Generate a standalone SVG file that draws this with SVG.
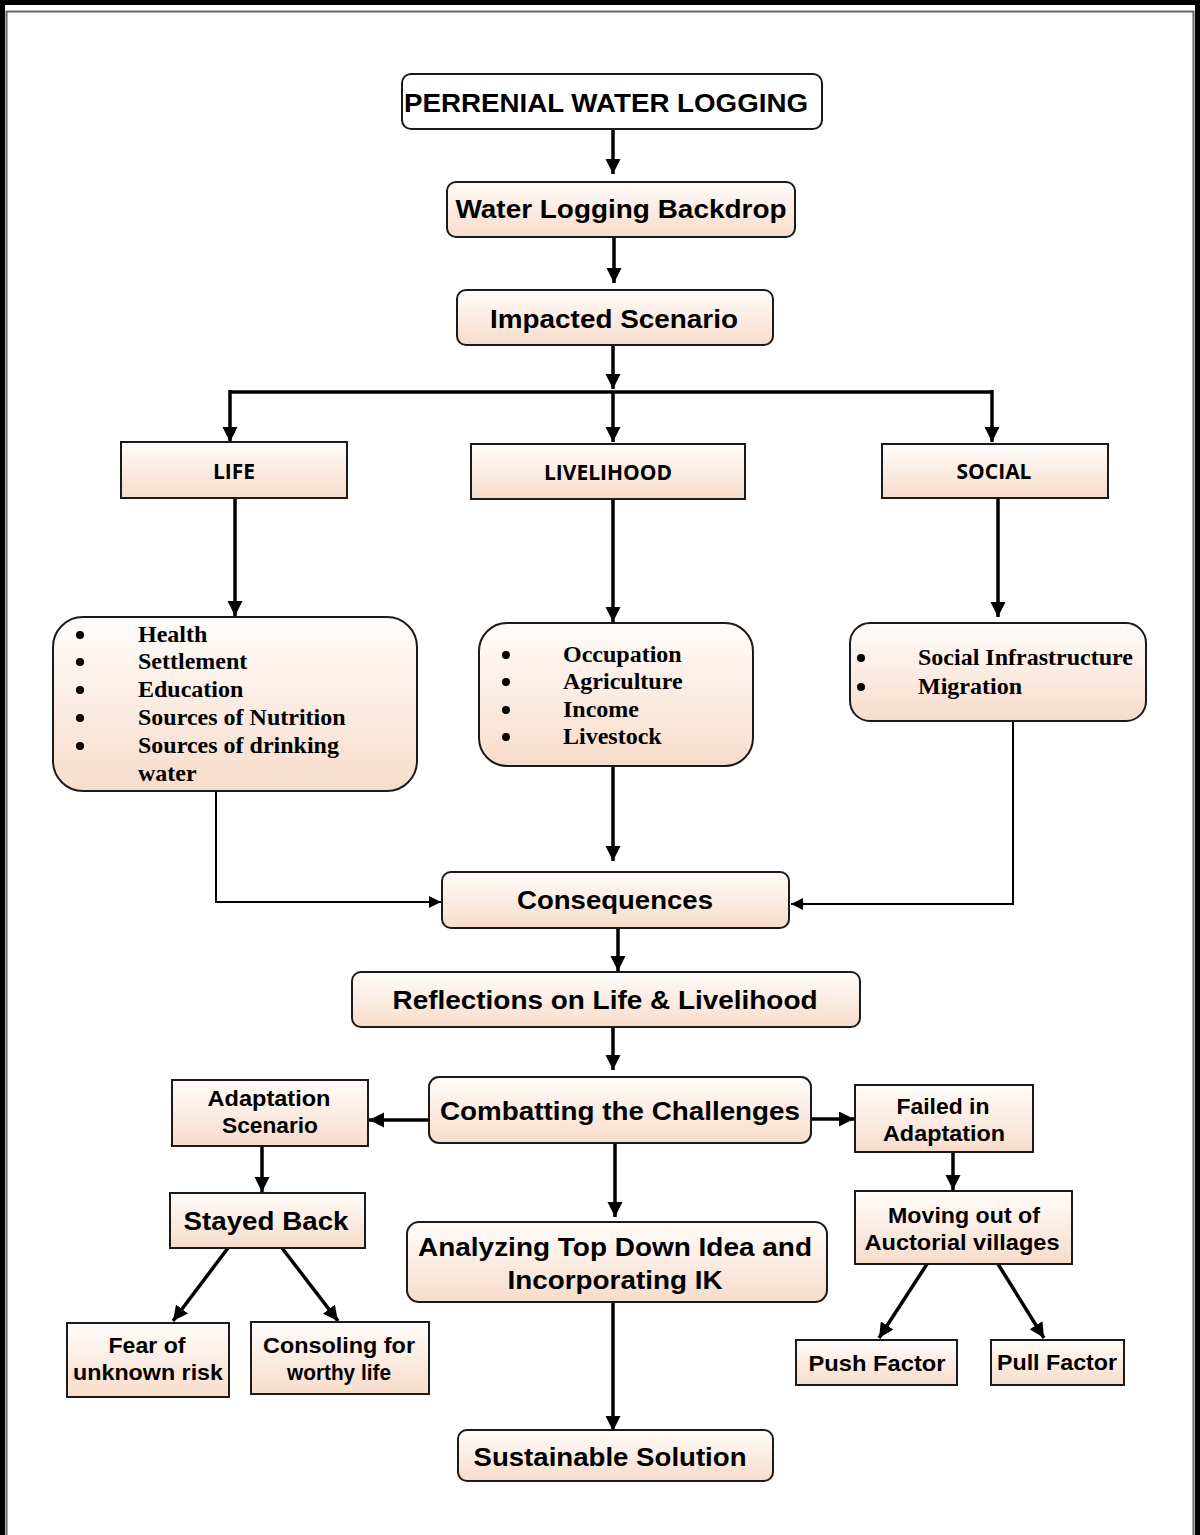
<svg xmlns="http://www.w3.org/2000/svg" width="1200" height="1535" viewBox="0 0 1200 1535">
<defs>
<linearGradient id="peach" x1="0" y1="0" x2="0" y2="1">
<stop offset="0" stop-color="#fffcfa"/>
<stop offset="1" stop-color="#f7dccb"/>
</linearGradient>
<marker id="ah" markerUnits="userSpaceOnUse" markerWidth="17" markerHeight="17" refX="15" refY="7.5" orient="auto">
<path d="M0,0 L15,7.5 L0,15 z" fill="#000"/>
</marker>
<marker id="ahs" markerUnits="userSpaceOnUse" markerWidth="14" markerHeight="14" refX="12" refY="6" orient="auto">
<path d="M0,0 L12,6 L0,12 z" fill="#000"/>
</marker>
</defs>
<style>
.box{fill:url(#peach);stroke:#1a1a1a;stroke-width:2}
.wbox{fill:#fff;stroke:#1a1a1a;stroke-width:2}
.t{font-family:"Liberation Sans",Arial,sans-serif;font-weight:bold;fill:#000;text-anchor:middle}
.big{font-size:26px}
.sm{font-size:22px}
.cap{font-family:"Open Sans","Liberation Sans",sans-serif;font-weight:bold;font-size:21px;fill:#000;text-anchor:middle}
.li{font-family:"Liberation Serif","Times New Roman",serif;font-weight:bold;font-size:24px;fill:#000}
.c{fill:none;stroke:#000;stroke-width:3.5;marker-end:url(#ah)}
.ct{fill:none;stroke:#000;stroke-width:2;marker-end:url(#ahs)}
.ln{fill:none;stroke:#000;stroke-width:3.5}
</style>
<rect x="0" y="0" width="1200" height="1535" fill="#fff"/>
<g id="frame">
<path d="M2.5,1540 V2.5 H1197.5 V1540" fill="none" stroke="#000" stroke-width="5"/>
<path d="M6.5,1540 V11.5 H1193.5 V1540" fill="none" stroke="#666" stroke-width="2"/>
</g>

<g id="connectors">
<path class="c" d="M613,129 V174"/>
<path class="c" d="M614,237 V283"/>
<path class="c" d="M613,345 V389"/>
<path class="ln" d="M230,392 H992"/>
<path class="c" d="M230,390 V442"/>
<path class="c" d="M613,392 V442"/>
<path class="c" d="M992,390 V442"/>
<path class="c" d="M235,498 V616"/>
<path class="c" d="M613,499 V622"/>
<path class="c" d="M998,498 V617"/>
<path class="ct" d="M216,791 V902 H441"/>
<path class="c" d="M613,766 V861"/>
<path class="ct" d="M1013,721 V904 H791"/>
<path class="c" d="M618,928 V971"/>
<path class="c" d="M613,1027 V1070"/>
<path class="c" d="M429,1120 H369"/>
<path class="c" d="M811,1119 H854"/>
<path class="c" d="M615,1143 V1217"/>
<path class="c" d="M262,1146 V1192"/>
<path class="c" d="M228,1248 L173,1321"/>
<path class="c" d="M282,1248 L338,1321"/>
<path class="c" d="M953,1152 V1190"/>
<path class="c" d="M927,1264 L879,1338"/>
<path class="c" d="M998,1264 L1044,1338"/>
<path class="c" d="M613,1302 V1431"/>
</g>

<g id="n-perrenial">
<rect class="wbox" x="402" y="74" width="420" height="55" rx="9"/>
<text class="t big" x="606" y="112" textLength="404" lengthAdjust="spacingAndGlyphs">PERRENIAL WATER LOGGING</text>
</g>
<g id="n-backdrop">
<rect class="box" x="447" y="182" width="348" height="55" rx="9"/>
<text class="t big" x="621" y="218" textLength="331" lengthAdjust="spacingAndGlyphs">Water Logging  Backdrop</text>
</g>
<g id="n-impacted">
<rect class="box" x="457" y="290" width="316" height="55" rx="9"/>
<text class="t big" x="614" y="328" textLength="248" lengthAdjust="spacingAndGlyphs">Impacted Scenario</text>
</g>

<g id="n-life">
<rect class="box" x="121" y="442" width="226" height="56"/>
<text class="cap" x="234" y="479">LIFE</text>
</g>
<g id="n-livelihood">
<rect class="box" x="471" y="444" width="274" height="55"/>
<text class="cap" x="608" y="480">LIVELIHOOD</text>
</g>
<g id="n-social">
<rect class="box" x="882" y="444" width="226" height="54"/>
<text class="cap" x="994" y="479">SOCIAL</text>
</g>

<g id="n-life-list">
<rect class="box" x="53" y="617" width="364" height="174" rx="30"/>
<circle cx="80" cy="635" r="4"/>
<circle cx="80" cy="662" r="4"/>
<circle cx="80" cy="690" r="4"/>
<circle cx="80" cy="718" r="4"/>
<circle cx="80" cy="746" r="4"/>
<text class="li" x="138" y="642">Health</text>
<text class="li" x="138" y="669">Settlement</text>
<text class="li" x="138" y="697">Education</text>
<text class="li" x="138" y="725">Sources of Nutrition</text>
<text class="li" x="138" y="753">Sources of drinking</text>
<text class="li" x="138" y="781">water</text>
</g>
<g id="n-livelihood-list">
<rect class="box" x="479" y="623" width="274" height="143" rx="28"/>
<circle cx="506" cy="655" r="4"/>
<circle cx="506" cy="682" r="4"/>
<circle cx="506" cy="710" r="4"/>
<circle cx="506" cy="737" r="4"/>
<text class="li" x="563" y="662">Occupation</text>
<text class="li" x="563" y="689">Agriculture</text>
<text class="li" x="563" y="717">Income</text>
<text class="li" x="563" y="744">Livestock</text>
</g>
<g id="n-social-list">
<rect class="box" x="850" y="623" width="296" height="98" rx="20"/>
<circle cx="861" cy="658" r="4"/>
<circle cx="861" cy="687" r="4"/>
<text class="li" x="918" y="665">Social Infrastructure</text>
<text class="li" x="918" y="694">Migration</text>
</g>

<g id="n-consequences">
<rect class="box" x="442" y="872" width="347" height="56" rx="9"/>
<text class="t big" x="615" y="909" textLength="196" lengthAdjust="spacingAndGlyphs">Consequences</text>
</g>
<g id="n-reflections">
<rect class="box" x="352" y="972" width="508" height="55" rx="9"/>
<text class="t big" x="605" y="1009" textLength="425" lengthAdjust="spacingAndGlyphs">Reflections on Life &amp; Livelihood</text>
</g>
<g id="n-combatting">
<rect class="box" x="429" y="1077" width="382" height="66" rx="10"/>
<text class="t big" x="620" y="1120" textLength="360" lengthAdjust="spacingAndGlyphs">Combatting the Challenges</text>
</g>

<g id="n-adaptation">
<rect class="box" x="172" y="1080" width="196" height="66"/>
<text class="t sm" x="269" y="1106" textLength="123" lengthAdjust="spacingAndGlyphs">Adaptation</text>
<text class="t sm" x="270" y="1133" textLength="96" lengthAdjust="spacingAndGlyphs">Scenario</text>
</g>
<g id="n-stayed">
<rect class="box" x="170" y="1193" width="195" height="55"/>
<text class="t big" x="266" y="1230" textLength="165" lengthAdjust="spacingAndGlyphs">Stayed Back</text>
</g>
<g id="n-fear">
<rect class="box" x="67" y="1323" width="162" height="74"/>
<text class="t sm" x="147" y="1353" textLength="77" lengthAdjust="spacingAndGlyphs">Fear of</text>
<text class="t sm" x="148" y="1380" textLength="150" lengthAdjust="spacingAndGlyphs">unknown risk</text>
</g>
<g id="n-consoling">
<rect class="box" x="251" y="1322" width="178" height="72"/>
<text class="t sm" x="339" y="1353" textLength="152" lengthAdjust="spacingAndGlyphs">Consoling for</text>
<text class="t sm" x="339" y="1380" textLength="104" lengthAdjust="spacingAndGlyphs">worthy life</text>
</g>

<g id="n-failed">
<rect class="box" x="855" y="1085" width="178" height="67"/>
<text class="t sm" x="943" y="1114" textLength="93" lengthAdjust="spacingAndGlyphs">Failed in</text>
<text class="t sm" x="944" y="1141" textLength="122" lengthAdjust="spacingAndGlyphs">Adaptation</text>
</g>
<g id="n-moving">
<rect class="box" x="855" y="1191" width="217" height="73"/>
<text class="t sm" x="964" y="1223" textLength="152" lengthAdjust="spacingAndGlyphs">Moving out of</text>
<text class="t sm" x="962" y="1250" textLength="195" lengthAdjust="spacingAndGlyphs">Auctorial villages</text>
</g>
<g id="n-push">
<rect class="box" x="796" y="1340" width="161" height="45"/>
<text class="t sm" x="877" y="1371" textLength="137" lengthAdjust="spacingAndGlyphs">Push Factor</text>
</g>
<g id="n-pull">
<rect class="box" x="991" y="1340" width="133" height="45"/>
<text class="t sm" x="1057" y="1370" textLength="120" lengthAdjust="spacingAndGlyphs">Pull Factor</text>
</g>

<g id="n-analyzing">
<rect class="box" x="407" y="1222" width="420" height="80" rx="12"/>
<text class="t big" x="615" y="1256" textLength="394" lengthAdjust="spacingAndGlyphs">Analyzing Top Down Idea and</text>
<text class="t big" x="615" y="1289" textLength="215" lengthAdjust="spacingAndGlyphs">Incorporating IK</text>
</g>
<g id="n-sustainable">
<rect class="box" x="458" y="1430" width="315" height="51" rx="9"/>
<text class="t big" x="610" y="1466" textLength="273" lengthAdjust="spacingAndGlyphs">Sustainable Solution</text>
</g>
</svg>
